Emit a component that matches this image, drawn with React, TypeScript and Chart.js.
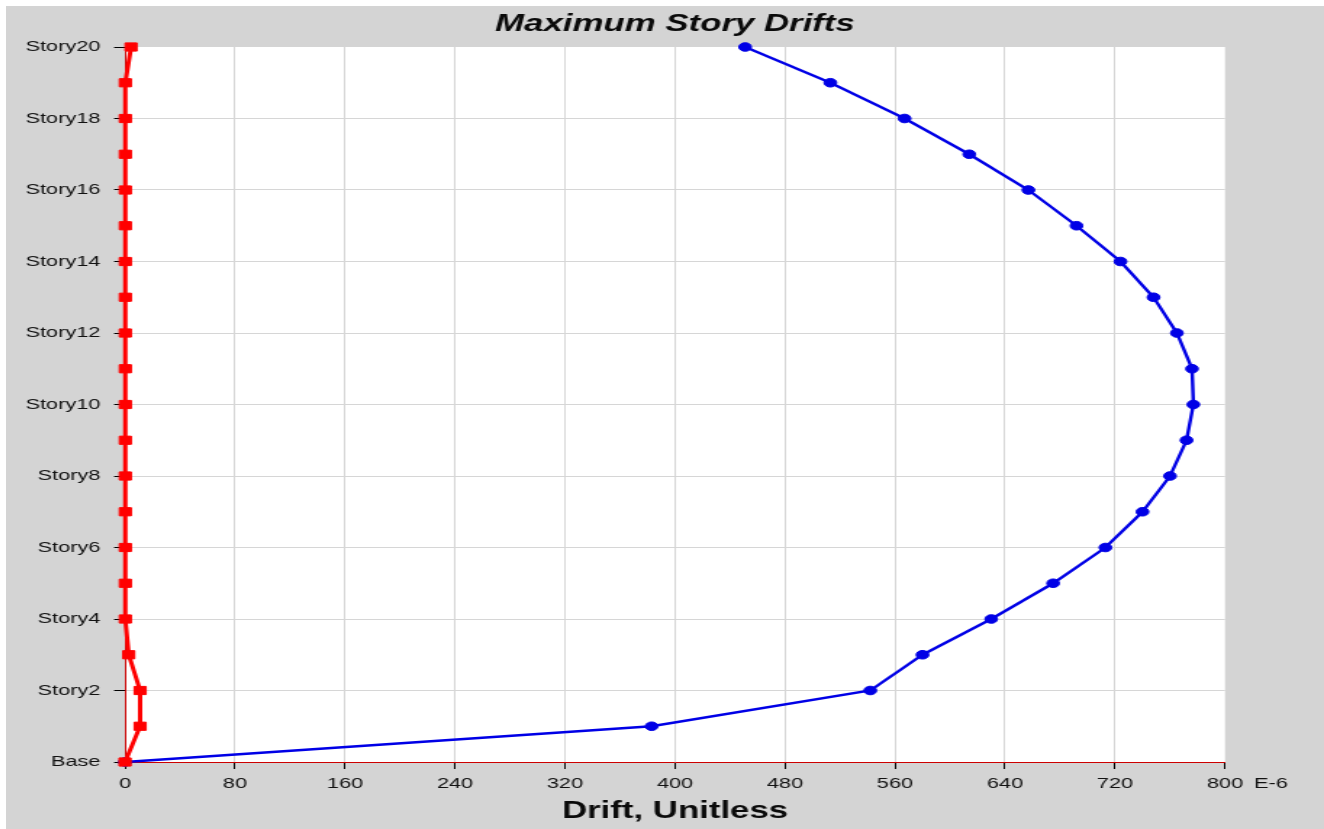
import React, { useEffect, useRef } from "react";
import { Chart, registerables } from "chart.js";

Chart.register(...registerables);

// ---- data ----
const stories: string[] = [
  "Base", "Story1", "Story2", "Story3", "Story4", "Story5", "Story6", "Story7",
  "Story8", "Story9", "Story10", "Story11", "Story12", "Story13", "Story14",
  "Story15", "Story16", "Story17", "Story18", "Story19", "Story20",
];
// Drift values (E-6), Base..Story20
const driftBlue: number[] = [
  0, 383, 542, 580, 630, 675, 713, 740, 760, 772, 777,
  776, 765, 748, 724, 692, 657, 614, 567, 513, 451,
];
const driftRed: number[] = [
  0, 11, 11, 2.7, 0.2, 0.2, 0.2, 0.2, 0.2, 0.2, 0.2,
  0.2, 0.2, 0.2, 0.2, 0.2, 0.2, 0.2, 0.2, 0.2, 4.4,
];
const xTickValues: number[] = [0, 80, 160, 240, 320, 400, 480, 560, 640, 720, 800];
const yTickValues: number[] = [0, 2, 4, 6, 8, 10, 12, 14, 16, 18, 20];
const titleText = "Maximum Story Drifts";
const xTitleText = "Drift, Unitless";
const unitText = "E-6";

// ---- layout ----
const CSS_W = 1318;
const CSS_H = 823;
const SX = 1.45;
const W = Math.round(CSS_W / SX);
const H = CSS_H;
const FONT = "'Liberation Sans', Arial, Helvetica, sans-serif";
const AREA_LEFT = 119 / (CSS_W / W);
const AREA_RIGHT = 1219 / (CSS_W / W);
const AREA_BOTTOM = 756;

const bgPlugin = {
  id: "plotBg",
  beforeDraw(chart: any) {
    const { ctx, chartArea: a } = chart;
    ctx.save();
    ctx.fillStyle = "#ffffff";
    ctx.fillRect(a.left, a.top, a.right - a.left, a.bottom - a.top);
    ctx.restore();
  },
};

const unitPlugin = {
  id: "unitLabel",
  afterDraw(chart: any) {
    const { ctx, chartArea: a } = chart;
    const xs = chart.scales.x;
    ctx.save();
    ctx.font = `15px ${FONT}`;
    ctx.fillStyle = "#111111";
    ctx.textAlign = "left";
    ctx.textBaseline = "middle";
    ctx.fillText(unitText, xs.getPixelForValue(xTickValues[xTickValues.length - 1]) + 20, a.bottom + 22);
    ctx.restore();
  },
};

export default function App() {
  const ref = useRef<HTMLCanvasElement | null>(null);

  useEffect(() => {
    if (!ref.current) return;
    const gridColor = (c: any, maxV: number) =>
      c.tick && (c.tick.value === 0 || c.tick.value === maxV) ? "rgba(0,0,0,0)" : "#d6d6d6";
    const chart = new Chart(ref.current, {
      type: "line",
      data: {
        datasets: [
          {
            label: "Red",
            data: driftRed.map((v, i) => ({ x: v, y: i })),
            borderColor: "#ff0000",
            backgroundColor: "#ff0000",
            borderWidth: 3,
            pointStyle: "rect",
            pointRadius: 5.8,
            pointBorderWidth: 1,
            tension: 0,
            clip: false,
          },
          {
            label: "Blue",
            data: driftBlue.map((v, i) => ({ x: v, y: i })),
            borderColor: "#0000e6",
            backgroundColor: "#0000e6",
            borderWidth: 2.4,
            pointStyle: "circle",
            pointRadius: 4.3,
            pointBorderWidth: 1,
            tension: 0,
            clip: false,
          },
        ],
      },
      options: {
        animation: false,
        responsive: false,
        devicePixelRatio: 1,
        layout: { padding: { left: 0, right: W - AREA_RIGHT, top: 0, bottom: 0 } },
        plugins: {
          legend: { display: false },
          tooltip: { enabled: false },
          title: {
            display: true,
            text: titleText,
            fullSize: false,
            color: "#0a0a0a",
            font: { family: FONT, size: 24, weight: "bold", style: "italic" },
            padding: { top: 4.4, bottom: 7.8 },
          },
        },
        scales: {
          x: {
            type: "linear",
            min: 0,
            max: 800,
            afterBuildTicks: (s: any) => {
              s.ticks = xTickValues.map((v) => ({ value: v }));
            },
            afterFit: (s: any) => {
              s.height = H - AREA_BOTTOM;
            },
            grid: {
              color: (c: any) => gridColor(c, 800),
              lineWidth: 1,
              drawTicks: true,
              tickLength: 7,
              tickColor: "#000000",
              tickWidth: 1,
            },
            border: { display: true, color: "#cc0000", width: 1 },
            ticks: {
              color: "#111111",
              font: { family: FONT, size: 15 },
              padding: 6,
              maxRotation: 0,
              autoSkip: false,
              callback: (v: any) => String(v),
            },
            title: {
              display: true,
              text: xTitleText,
              color: "#0a0a0a",
              font: { family: FONT, size: 24, weight: "bold" },
              padding: { top: 0, bottom: 3.5 },
            },
          },
          y: {
            type: "linear",
            min: 0,
            max: 20,
            afterBuildTicks: (s: any) => {
              s.ticks = yTickValues.map((v) => ({ value: v }));
            },
            afterFit: (s: any) => {
              s.width = AREA_LEFT;
            },
            grid: {
              color: (c: any) => gridColor(c, 20),
              lineWidth: 1,
              drawTicks: true,
              tickLength: 7.5,
              tickColor: "#000000",
              tickWidth: 1,
            },
            border: { display: true, color: "#cc0000", width: 1 },
            ticks: {
              color: "#111111",
              font: { family: FONT, size: 15 },
              padding: 9.5,
              autoSkip: false,
              callback: (v: any) => stories[Number(v)] ?? "",
            },
          },
        },
      },
      plugins: [bgPlugin, unitPlugin],
    } as any);
    return () => chart.destroy();
  }, []);

  return (
    <div
      style={{
        position: "absolute",
        left: 6,
        top: 6,
        width: CSS_W,
        height: CSS_H,
        background: "#d4d4d4",
      }}
    >
      <canvas
        ref={ref}
        width={W}
        height={H}
        style={{ width: `${CSS_W}px`, height: `${CSS_H}px`, display: "block" }}
      />
    </div>
  );
}
